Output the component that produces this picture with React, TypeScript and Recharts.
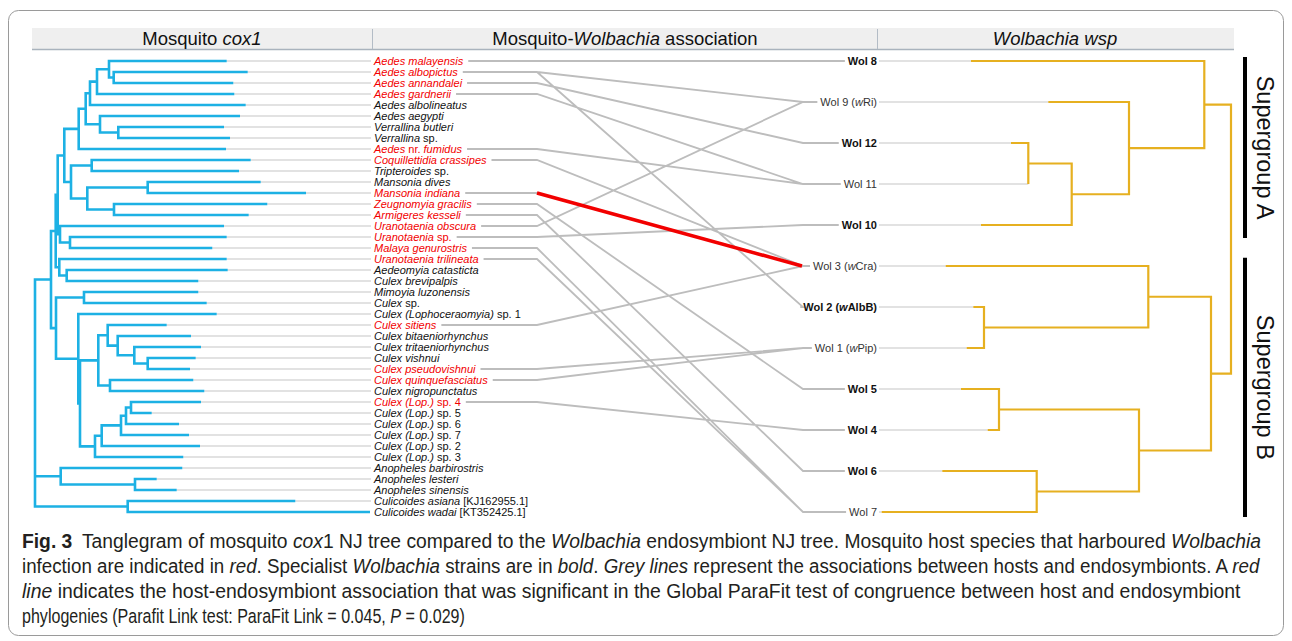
import React from 'react';
import { LineChart, Line, XAxis, YAxis } from 'recharts';

// host taxa (mosquito cox1 tree), top to bottom; *...* = italic
const HOSTS = [
  '*Aedes malayensis*', '*Aedes albopictus*', '*Aedes annandalei*', '*Aedes gardnerii*',
  '*Aedes albolineatus*', '*Aedes aegypti*', '*Verrallina butleri*', '*Verrallina* sp.',
  '*Aedes* nr. *fumidus*', '*Coquillettidia crassipes*', '*Tripteroides* sp.', '*Mansonia dives*',
  '*Mansonia indiana*', '*Zeugnomyia gracilis*', '*Armigeres kesseli*', '*Uranotaenia obscura*',
  '*Uranotaenia* sp.', '*Malaya genurostris*', '*Uranotaenia trilineata*', '*Aedeomyia catasticta*',
  '*Culex brevipalpis*', '*Mimoyia luzonensis*', '*Culex* sp.', '*Culex (Lophoceraomyia)* sp. 1',
  '*Culex sitiens*', '*Culex bitaeniorhynchus*', '*Culex tritaeniorhynchus*', '*Culex vishnui*',
  '*Culex pseudovishnui*', '*Culex quinquefasciatus*', '*Culex nigropunctatus*', '*Culex (Lop.)* sp. 4',
  '*Culex (Lop.)* sp. 5', '*Culex (Lop.)* sp. 6', '*Culex (Lop.)* sp. 7', '*Culex (Lop.)* sp. 2',
  '*Culex (Lop.)* sp. 3', '*Anopheles barbirostris*', '*Anopheles lesteri*', '*Anopheles sinensis*',
  '*Culicoides asiana* [KJ162955.1]', '*Culicoides wadai* [KT352425.1]',
];
const HOST_INFECTED = [0, 1, 2, 3, 8, 9, 12, 13, 14, 15, 16, 17, 18, 24, 28, 29, 31];
const HOST_TIP = [
  226.7, 247.7, 233.3, 234.3, 245.7, 240, 224, 230, 226, 250.7, 239, 260.7, 306, 267.3,
  248.7, 224, 226.7, 212.3, 226.7, 227.7, 198.3, 198.3, 206.7, 216.7, 166.7, 191, 201,
  195.7, 190, 193.3, 204.3, 201, 151.7, 179, 189, 200, 183.3, 182.3, 156.7, 176.7, 295.3, 370,
];
// [clade, depth, children] - numbers are taxa, strings are clades listed earlier
const HOST_CLADES: [string, number, (number | string)[]][] = [
  ['aAlb', 113.7, [1, 2]], ['aMal', 109, [0, 'aAlb']], ['aGar', 97, ['aMal', 3]],
  ['aAbl', 90, ['aGar', 4]], ['verr', 118.3, [6, 7]], ['aAeg', 100, [5, 'verr']],
  ['aed', 85.7, ['aAbl', 'aAeg']], ['aFum', 78.7, ['aed', 8]], ['coq', 91.7, [9, 10]],
  ['man', 147.7, [11, 12]], ['zeu', 114, [13, 14]], ['manZeu', 87.3, ['man', 'zeu']],
  ['coqMan', 71, ['coq', 'manZeu']], ['aedini', 64.3, ['aFum', 'coqMan']],
  ['uraMal', 70, [16, 17]], ['ura', 60, [15, 'uraMal']], ['aedUra', 57.7, ['aedini', 'ura']],
  ['aedeo', 66.7, [19, 20]], ['triAed', 59.3, [18, 'aedeo']], ['upper', 55.7, ['aedUra', 'triAed']],
  ['mim', 84, [21, 22]], ['vp', 147.7, [27, 28]], ['tri', 134.3, [26, 'vp']],
  ['bit', 117.7, [25, 'tri']], ['sit', 107.7, [24, 'bit']], ['qui', 110, [29, 30]],
  ['culex', 98.3, ['sit', 'qui']], ['lop45', 131, [31, 32]], ['lop6', 126, ['lop45', 33]],
  ['lop7', 121, ['lop6', 34]], ['lop2', 101.7, ['lop7', 35]], ['lop3', 95, ['lop2', 36]],
  ['culLop', 80, ['culex', 'lop3']], ['loph1', 78.3, [23, 'culLop']],
  ['culicini', 56, ['mim', 'loph1']], ['culicidae', 51, ['upper', 'culicini']],
  ['anoph2', 135, [38, 39]], ['anoph', 60.7, [37, 'anoph2']], ['culic', 127.7, [40, 41]],
  ['root', 35, ['culicidae', 'anoph', 'culic']],
];

// Wolbachia wsp strains
const STRAINS = [
  'Wol 8', 'Wol 9 (*w*Ri)', 'Wol 12', 'Wol 11', 'Wol 10', 'Wol 3 (*w*Cra)',
  'Wol 2 (*w*AlbB)', 'Wol 1 (*w*Pip)', 'Wol 5', 'Wol 4', 'Wol 6', 'Wol 7',
];
const STRAIN_SPECIALIST = [true, false, true, false, true, false, true, false, true, true, true, false];
const STRAIN_TIP = [971, 1048.3, 1011, 1028.3, 981, 945.7, 973.3, 966.7, 961, 987.7, 942.3, 881.7];
const STRAIN_CLADES: [string, number, (number | string)[]][] = [
  ['w12', 1028.3, [2, 3]], ['w10', 1071.7, ['w12', 4]], ['w9', 1129, [1, 'w10']],
  ['w8', 1204.3, [0, 'w9']], ['w21', 984, [6, 7]], ['w3', 1148.3, [5, 'w21']],
  ['w54', 999, [8, 9]], ['w67', 1036.7, [10, 11]], ['w4567', 1139, ['w54', 'w67']],
  ['supB', 1211, ['w3', 'w4567']], ['wRoot', 1231, ['w8', 'supB']],
];
const SUPERGROUPS: [string, number, number][] = [
  ['Supergroup A', -0.1, 4.32],
  ['Supergroup B', 4.8, 11.12],
];

// host -> strain associations
const LINKS: [number, number][] = [
  [0, 0], [1, 1], [1, 6], [2, 2], [3, 3], [8, 3], [9, 5], [12, 5], [13, 8], [14, 10],
  [15, 1], [16, 4], [17, 11], [18, 11], [24, 5], [28, 7], [29, 7], [31, 9],
];
const SIGNIFICANT_LINK: [number, number] = [12, 5];

const CAPTION: [string, string][][] = [
  [['Fig. 3', 'b'], ['\u2002Tanglegram of mosquito ', ''], ['cox', 'i'], ['1 NJ tree compared to the ', ''], ['Wolbachia', 'i'], [' endosymbiont NJ tree. Mosquito host species that harboured ', ''], ['Wolbachia', 'i']],
  [['infection are indicated in ', ''], ['red', 'i'], ['. Specialist ', ''], ['Wolbachia', 'i'], [' strains are in ', ''], ['bold', 'i'], ['. ', ''], ['Grey lines', 'i'], [' represent the associations between hosts and endosymbionts. A ', ''], ['red', 'i']],
  [['line', 'i'], [' indicates the host-endosymbiont association that was significant in the Global ParaFit test of congruence between host and endosymbiont', '']],
  [['phylogenies (Parafit Link test: ParaFit Link = 0.045, ', ''], ['P', 'i'], [' = 0.029)', '']],
];
const CAPTION_WIDTHS = [1240, 1240, 1219, 443];

const W = 1292;
const H = 641;
const FIRST_ROW_PX = 61;
const ROW_PX = 11;
const FONT = '"Liberation Sans", Arial, sans-serif';
const CAPTION_SIZE = 19.5;
const CYAN = '#1db1e4';
const GOLD = '#e6b020';
const ASSOC = '#bdbdbd';
const TIP_EXT = '#e2e2e2';
const RED = '#f20000';

const HOST_LABEL_X = 374;
const HOST_BEND_X = 537;
const STRAIN_BEND_X = 803;
const STRAIN_LABEL_END = 877;

const strainRow = (j: number) => (j * (HOSTS.length - 1)) / (STRAINS.length - 1);

type Pt = { x: number; y: number | null; [k: string]: any };

const parse = (s: string) =>
  s.split('*').map((text, i) => ({ text, italic: i % 2 === 1 })).filter((p) => p.text);

let ctx: CanvasRenderingContext2D | null = null;
const textWidth = (text: string, font: string) => {
  if (!ctx) ctx = document.createElement('canvas').getContext('2d');
  if (!ctx) return text.length * 5.5;
  ctx.font = font;
  return ctx.measureText(text).width;
};
const measure = (markup: string, bold = false) =>
  parse(markup).reduce(
    (w, p) => w + textWidth(p.text, `${p.italic ? 'italic ' : ''}${bold ? 'bold ' : ''}11px ${FONT}`),
    0,
  );

function treePath(tips: number[], clades: [string, number, (number | string)[]][], rowOf: (i: number) => number) {
  const pos: Record<string, { x: number; y: number }> = {};
  const get = (k: number | string) => (typeof k === 'number' ? { x: tips[k], y: rowOf(k) } : pos[k]);
  const pts: Pt[] = [];
  for (const [id, x, kids] of clades) {
    const ks = kids.map(get);
    const a = ks[0];
    const b = ks[ks.length - 1];
    pos[id] = { x, y: (a.y + b.y) / 2 };
    pts.push({ x: a.x, y: a.y }, { x, y: a.y }, { x, y: b.y }, { x: b.x, y: b.y }, { x: b.x, y: null });
    ks.slice(1, -1).forEach((k) => pts.push({ x, y: k.y }, { x: k.x, y: k.y }, { x: k.x, y: null }));
  }
  return pts;
}

export default function App() {
  const hostTree = treePath(HOST_TIP, HOST_CLADES, (i) => i);
  const strainTree = treePath(STRAIN_TIP, STRAIN_CLADES, strainRow);

  const hostExt: Pt[] = [];
  HOST_TIP.forEach((t, i) => {
    if (t < HOST_LABEL_X - 4) hostExt.push({ x: t, y: i }, { x: HOST_LABEL_X - 3, y: i }, { x: t, y: null });
  });
  const strainExt: Pt[] = [];
  STRAIN_TIP.forEach((t, j) => {
    strainExt.push({ x: STRAIN_LABEL_END + 2, y: strainRow(j) }, { x: t, y: strainRow(j) }, { x: t, y: null });
  });

  const links: Pt[] = [];
  LINKS.forEach(([h, s]) => {
    const start = HOST_LABEL_X + measure(HOSTS[h]) + 5;
    const end = STRAIN_LABEL_END - measure(STRAINS[s], STRAIN_SPECIALIST[s]) - 3;
    links.push(
      { x: start, y: h },
      { x: HOST_BEND_X, y: h },
      { x: STRAIN_BEND_X, y: strainRow(s) },
      { x: end, y: strainRow(s) },
      { x: end, y: null },
    );
  });
  const redLink: Pt[] = [
    { x: HOST_BEND_X, y: SIGNIFICANT_LINK[0] },
    { x: STRAIN_BEND_X - 1, y: strainRow(SIGNIFICANT_LINK[1]) },
  ];

  const bars: Pt[] = [];
  SUPERGROUPS.forEach(([, a, b]) => {
    bars.push({ x: 1245, y: strainRow(a) }, { x: 1245, y: strainRow(b) }, { x: 1245, y: null });
  });

  const labels: Pt[] = [
    ...HOSTS.map((label, i) => ({ x: HOST_LABEL_X, y: i, kind: 'host', label, red: HOST_INFECTED.includes(i) })),
    ...STRAINS.map((label, j) => ({ x: STRAIN_LABEL_END, y: strainRow(j), kind: 'wol', label, bold: STRAIN_SPECIALIST[j] })),
    ...SUPERGROUPS.map(([label, a, b]) => ({ x: 1265, y: strainRow((a + b) / 2), kind: 'group', label })),
  ];

  const renderLabel = (props: any) => {
    const { cx, cy, payload, index } = props;
    const key = `lbl-${index}`;
    if (cx == null || cy == null) return <g key={key} />;
    if (payload.kind === 'group') {
      return (
        <text key={key} x={cx} y={cy} dy="0.36em" textAnchor="middle" transform={`rotate(90 ${cx} ${cy})`}
          fontFamily={FONT} fontSize={23.5} fill="#111">{payload.label}</text>
      );
    }
    const isHost = payload.kind === 'host';
    return (
      <text key={key} x={cx} y={cy} dy="0.36em" textAnchor={isHost ? 'start' : 'end'}
        fontFamily={FONT} fontSize={11} fontWeight={payload.bold ? 'bold' : 'normal'}
        fill={isHost ? (payload.red ? RED : '#111') : payload.bold ? '#111' : '#333'} style={{ whiteSpace: 'pre' }}>
        {parse(payload.label).map((p, k) => (
          <tspan key={k} fontStyle={p.italic ? 'italic' : 'normal'}>{p.text}</tspan>
        ))}
      </text>
    );
  };

  const capFont = (s: string) =>
    `${s === 'i' ? 'italic ' : ''}${s === 'b' ? 'bold ' : ''}${CAPTION_SIZE}px ${FONT}`;

  const yMin = -FIRST_ROW_PX / ROW_PX;
  const yMax = (H - FIRST_ROW_PX) / ROW_PX;
  const common = { dataKey: 'y', dot: false, activeDot: false, isAnimationActive: false, type: 'linear' as const };

  return (
    <div style={{ position: 'absolute', left: 0, top: 0, width: W, height: H, background: '#fff' }}>
      <svg width={W} height={H} style={{ position: 'absolute', left: 0, top: 0 }}>
        <rect x={8.5} y={10.5} width={1275} height={625} rx={10} fill="none" stroke="#9a9a9a" />
        <rect x={32} y={28} width={1202} height={21} fill="#efefef" />
        <line x1={32} x2={1234} y1={49.5} y2={49.5} stroke="#a9b3bd" strokeWidth={1.5} />
        <line x1={372.5} x2={372.5} y1={29} y2={49} stroke="#b3bcc6" />
        <line x1={877.5} x2={877.5} y1={29} y2={49} stroke="#b3bcc6" />
        <g fontFamily={FONT} fontSize={18.5} fill="#111" textAnchor="middle">
          <text x={202} y={45}>Mosquito <tspan fontStyle="italic">cox1</tspan></text>
          <text x={625} y={45}>Mosquito-<tspan fontStyle="italic">Wolbachia</tspan> association</text>
          <text x={1055} y={45} fontStyle="italic">Wolbachia wsp</text>
        </g>
        <g fontFamily={FONT} fontSize={CAPTION_SIZE} fill="#231f20">
          {CAPTION.map((line, i) => {
            const natural = line.reduce((w, [t, s]) => w + textWidth(t, capFont(s)), 0);
            const sx = CAPTION_WIDTHS[i] / natural;
            return (
              <text key={i} x={0} y={0} transform={`translate(22 ${548 + i * 25}) scale(${sx} 1)`} style={{ whiteSpace: 'pre' }}>
                {line.map(([t, s], k) => (
                  <tspan key={k} fontStyle={s === 'i' ? 'italic' : 'normal'} fontWeight={s === 'b' ? 'bold' : 'normal'}>{t}</tspan>
                ))}
              </text>
            );
          })}
        </g>
      </svg>
      <div style={{ position: 'absolute', left: 0, top: 0 }}>
        <LineChart width={W} height={H} margin={{ top: 0, right: 0, bottom: 0, left: 0 }}>
          <XAxis type="number" dataKey="x" domain={[0, W]} hide allowDataOverflow />
          <YAxis type="number" domain={[yMin, yMax]} reversed hide allowDataOverflow />
          <Line {...common} data={hostExt} stroke={TIP_EXT} strokeWidth={2} />
          <Line {...common} data={strainExt} stroke={TIP_EXT} strokeWidth={2} />
          <Line {...common} data={hostTree} stroke={CYAN} strokeWidth={2.6} />
          <Line {...common} data={strainTree} stroke={GOLD} strokeWidth={2.2} />
          <Line {...common} data={links} stroke={ASSOC} strokeWidth={1.8} />
          <Line {...common} data={redLink} stroke={RED} strokeWidth={3.6} />
          <Line {...common} data={bars} stroke="#000" strokeWidth={4} />
          <Line {...common} data={labels} stroke="none" dot={renderLabel} />
        </LineChart>
      </div>
    </div>
  );
}
